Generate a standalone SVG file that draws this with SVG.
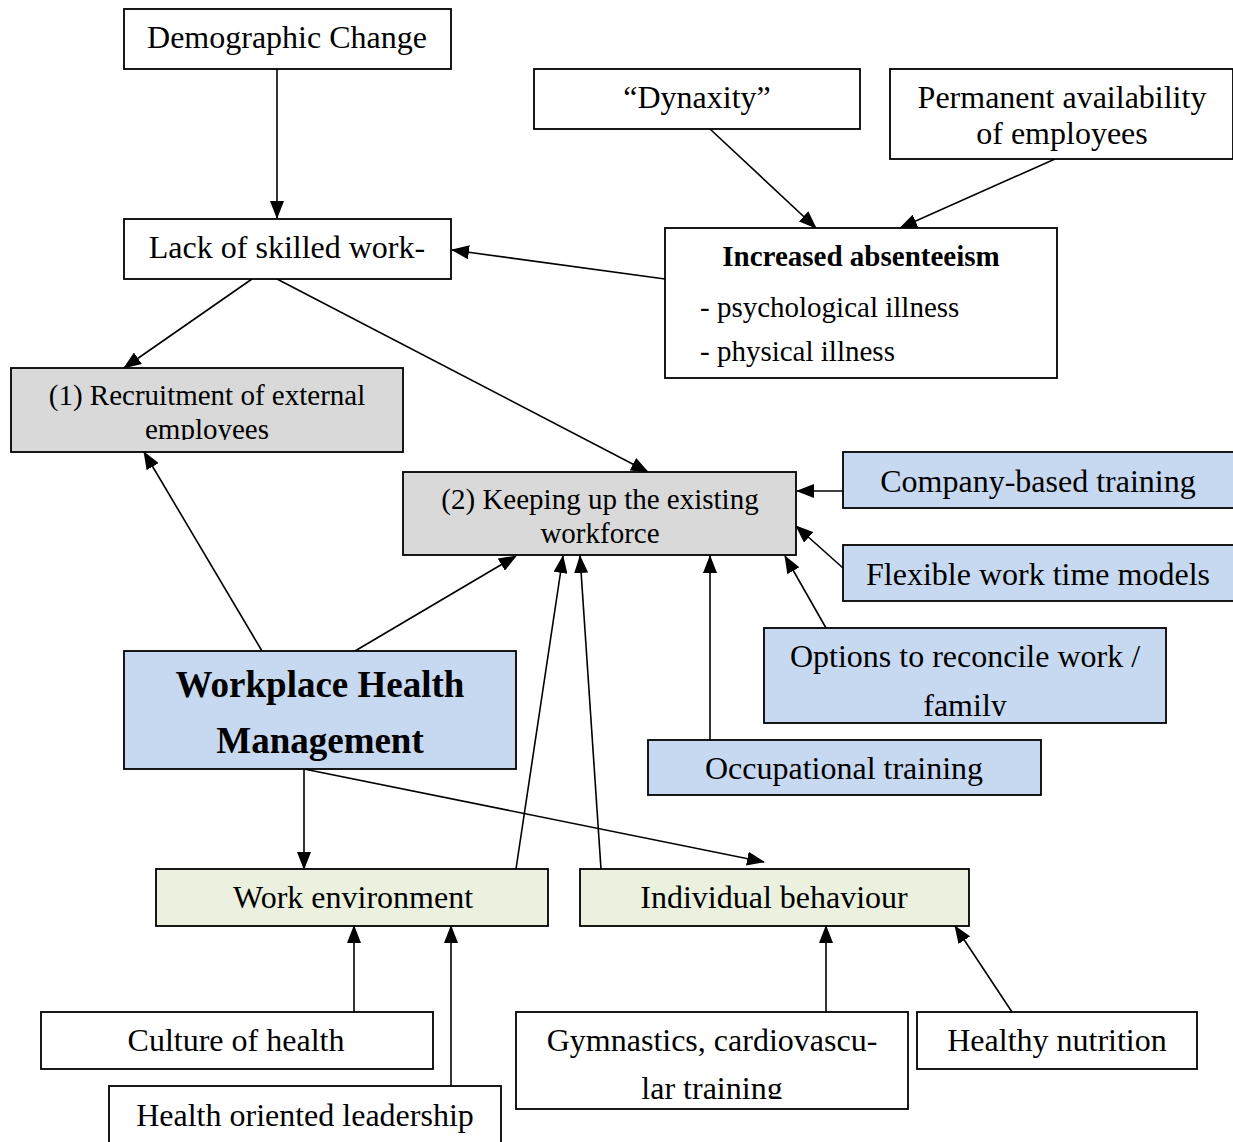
<svg xmlns="http://www.w3.org/2000/svg" width="1233" height="1142" viewBox="0 0 1233 1142">
<style>
.b{stroke:#000;stroke-width:1.8}
.w{fill:#fff}.g{fill:#d9d9d9}.bl{fill:#c6d9f1}.gr{fill:#ebf1de}
text{font-family:"Liberation Serif","Times New Roman",serif;fill:#000}
.t32{font-size:32px}.t29{font-size:29px}.bold{font-weight:bold}
.c{text-anchor:middle}
.ln{stroke:#000;stroke-width:1.6;fill:none;marker-end:url(#ah)}
</style>
<defs>
<marker id="ah" markerUnits="userSpaceOnUse" markerWidth="18" markerHeight="14" refX="17" refY="7" orient="auto">
<path d="M0,0 L18,7 L0,14 Z" fill="#000"/>
</marker>
<clipPath id="c1"><rect x="11" y="368" width="392" height="72"/></clipPath>
<clipPath id="c2"><rect x="764" y="628" width="402" height="88"/></clipPath>
<clipPath id="c3"><rect x="516" y="1012" width="392" height="87"/></clipPath>
</defs>
<g id="connectors">
<line class="ln" x1="277" y1="69" x2="277" y2="218"/>
<line class="ln" x1="710" y1="129" x2="816" y2="228"/>
<line class="ln" x1="1055" y1="159" x2="900" y2="228"/>
<line class="ln" x1="665" y1="279" x2="452" y2="250"/>
<line class="ln" x1="252" y1="279" x2="124" y2="368"/>
<line class="ln" x1="277" y1="279" x2="648" y2="472"/>
<line class="ln" x1="262" y1="651" x2="144" y2="452"/>
<line class="ln" x1="355" y1="651" x2="516" y2="556"/>
<line class="ln" x1="516" y1="869" x2="563" y2="556"/>
<line class="ln" x1="601" y1="869" x2="580" y2="556"/>
<line class="ln" x1="710" y1="740" x2="710" y2="556"/>
<line class="ln" x1="826" y1="628" x2="785" y2="556"/>
<line class="ln" x1="843" y1="568" x2="796" y2="526"/>
<line class="ln" x1="843" y1="491" x2="797" y2="491"/>
<line class="ln" x1="304" y1="769" x2="304" y2="869"/>
<line class="ln" x1="304" y1="769" x2="764" y2="862"/>
<line class="ln" x1="354" y1="1012" x2="354" y2="926"/>
<line class="ln" x1="451" y1="1086" x2="451" y2="926"/>
<line class="ln" x1="826" y1="1012" x2="826" y2="926"/>
<line class="ln" x1="1012" y1="1012" x2="955" y2="926"/>
</g>
<g id="demographic"><rect class="b w" x="124" y="9" width="327" height="60"/><text class="t32 c" x="287" y="48">Demographic Change</text></g>
<g id="lack"><rect class="b w" x="124" y="219" width="327" height="60"/><text class="t32 c" x="287" y="258">Lack of skilled work-</text></g>
<g id="dynaxity"><rect class="b w" x="534" y="69" width="326" height="60"/><text class="t32 c" x="697" y="108">“Dynaxity”</text></g>
<g id="permanent"><rect class="b w" x="890" y="69" width="343" height="90"/><text class="t32 c" x="1062" y="108">Permanent availability</text><text class="t32 c" x="1062" y="144">of employees</text></g>
<g id="absenteeism"><rect class="b w" x="665" y="228" width="392" height="150"/><text class="t29 c bold" x="861" y="266">Increased absenteeism</text><text class="t29" x="700" y="317">- psychological illness</text><text class="t29" x="700" y="361">- physical illness</text></g>
<g id="recruitment"><rect class="b g" x="11" y="368" width="392" height="84"/><g clip-path="url(#c1)"><text class="t29 c" x="207" y="405">(1) Recruitment of external</text><text class="t29 c" x="207" y="439">employees</text></g></g>
<g id="keeping"><rect class="b g" x="403" y="472" width="393" height="83"/><text class="t29 c" x="600" y="509">(2) Keeping up the existing</text><text class="t29 c" x="600" y="543">workforce</text></g>
<g id="company"><rect class="b bl" x="843" y="452" width="392" height="56"/><text class="t32 c" x="1038" y="492">Company-based training</text></g>
<g id="flexible"><rect class="b bl" x="843" y="545" width="392" height="56"/><text class="t32 c" x="1038" y="585">Flexible work time models</text></g>
<g id="options"><rect class="b bl" x="764" y="628" width="402" height="95"/><g clip-path="url(#c2)"><text class="t32 c" x="965" y="667">Options to reconcile work /</text><text class="t32 c" x="965" y="716">family</text></g></g>
<g id="occupational"><rect class="b bl" x="648" y="740" width="393" height="55"/><text class="t32 c" x="844" y="779">Occupational training</text></g>
<g id="whm"><rect class="b bl" x="124" y="651" width="392" height="118"/><text class="c bold" style="font-size:37px" x="320" y="697">Workplace Health</text><text class="c bold" style="font-size:37px" x="320" y="753">Management</text></g>
<g id="workenv"><rect class="b gr" x="156" y="869" width="392" height="57"/><text class="t32 c" x="353" y="908">Work environment</text></g>
<g id="individual"><rect class="b gr" x="580" y="869" width="389" height="57"/><text class="t32 c" x="774" y="908">Individual behaviour</text></g>
<g id="culture"><rect class="b w" x="41" y="1012" width="392" height="57"/><text class="t32 c" x="236" y="1051">Culture of health</text></g>
<g id="leadership"><rect class="b w" x="109" y="1086" width="392" height="70"/><text class="t32 c" x="305" y="1126">Health oriented leadership</text></g>
<g id="gymnastics"><rect class="b w" x="516" y="1012" width="392" height="97"/><g clip-path="url(#c3)"><text class="t32 c" x="712" y="1051">Gymnastics, cardiovascu-</text><text class="t32 c" x="712" y="1099">lar training</text></g></g>
<g id="nutrition"><rect class="b w" x="917" y="1012" width="280" height="57"/><text class="t32 c" x="1057" y="1051">Healthy nutrition</text></g>
</svg>
